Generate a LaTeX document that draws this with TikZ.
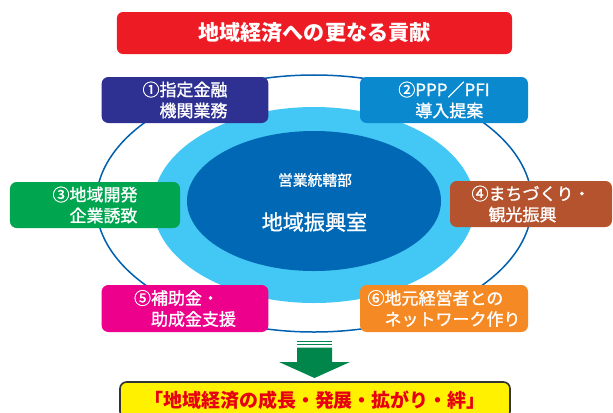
\documentclass[tikz,border=0pt]{standalone}
\usepackage{fontspec}
\usepackage{xcolor}
\usepackage{tikz}
\usetikzlibrary{shapes.geometric, positioning}
\newfontfamily\jpfont{Noto Sans CJK JP}
\newfontfamily\jpmedium[FakeBold=1.2]{Noto Sans CJK JP}

\definecolor{titlered}{HTML}{ED1C24}
\definecolor{boxpurple}{HTML}{2E3192}
\definecolor{boxblue}{HTML}{0A89CF}
\definecolor{boxgreen}{HTML}{00A54F}
\definecolor{boxbrown}{HTML}{B5532F}
\definecolor{boxpink}{HTML}{EC008C}
\definecolor{boxorange}{HTML}{F58A25}
\definecolor{ringline}{HTML}{0060B0}
\definecolor{lightblue}{HTML}{43C7F4}
\definecolor{darkblue}{HTML}{0068B4}
\definecolor{arrowgreen}{HTML}{00854A}
\definecolor{goalyellow}{HTML}{FFF100}
\definecolor{goalred}{HTML}{E60012}

\begin{document}
\begin{tikzpicture}[x=0.03cm, y=-0.03cm,
    task/.style={rectangle, rounded corners=0.2cm, minimum width=5cm, minimum height=1.38cm, inner sep=0pt, align=left, text=white, font=\jpmedium\fontsize{14.5}{17.9}\selectfont},
    banner/.style={rectangle, rounded corners=0.18cm, fill=titlered, minimum width=11.85cm, minimum height=1.26cm, text=white, font=\jpfont\bfseries\fontsize{18}{20}\selectfont},
    goal/.style={rectangle, rounded corners=0.2cm, draw=black!80, line width=0.05cm, fill=goalyellow, minimum width=11.7cm, minimum height=1.08cm, text=goalred, font=\jpfont\bfseries\fontsize{16.2}{18}\selectfont},
    oval/.style={ellipse, inner sep=0pt}
]
\useasboundingbox (0,0) rectangle (613,412);
\clip (0,0) rectangle (613,412);

% Title
\node[banner] (title) at (314.5,33) {地域経済への更なる貢献};

% Ellipses
\node[oval, draw=ringline, line width=0.045cm, minimum width=13.08cm, minimum height=7.71cm] (ring) at (314,203.5) {};
\node[oval, fill=lightblue, minimum width=9.66cm, minimum height=5.88cm] (outer) at (314,205) {};
\node[oval, fill=darkblue, minimum width=7.62cm, minimum height=4.2cm] (inner) at (314,201) {};
\node[text=white, font=\jpmedium\fontsize{12.6}{14}\selectfont] (hq) at (315,180) {営業統轄部};
\node[text=white, font=\jpmedium\fontsize{18}{20}\selectfont] (office) at (314.5,222) {地域振興室};

% Tasks
\node[task, fill=boxpurple] (finance) at (185,100) {①指定金融\\\hspace{1em}機関業務};
\node[task, fill=boxblue, minimum width=5.04cm] (ppp) at (444,100) {②PPP／PFI\\\hspace{1em}導入提案};
\node[task, fill=boxgreen, minimum width=5.1cm] (develop) at (95,205) {③地域開発\\\hspace{1em}企業誘致};
\node[task, fill=boxbrown, minimum width=4.86cm] (town) at (531,204) {④まちづくり・\\\hspace{1em}観光振興};
\node[task, fill=boxpink, minimum height=1.41cm] (subsidy) at (185,308.5) {⑤補助金・\\\hspace{1em}助成金支援};
\node[task, fill=boxorange, minimum width=5.04cm, minimum height=1.41cm] (network) at (444,308.5) {⑥地元経営者との\\\hspace{1em}ネットワーク作り};

% Goal
\node[goal] (result) at (315,400) {「地域経済の成長・発展・拡がり・絆」};

% Arrow
\fill[arrowgreen] (297,341) rectangle (332,342.3);
\fill[arrowgreen] (297,344) rectangle (332,345.3);
\fill[arrowgreen] (297,347.5) -- (332,347.5) -- (332,362) -- (350,362) -- (314.5,378) -- (279,362) -- (297,362) -- cycle;

\end{tikzpicture}
\end{document}
